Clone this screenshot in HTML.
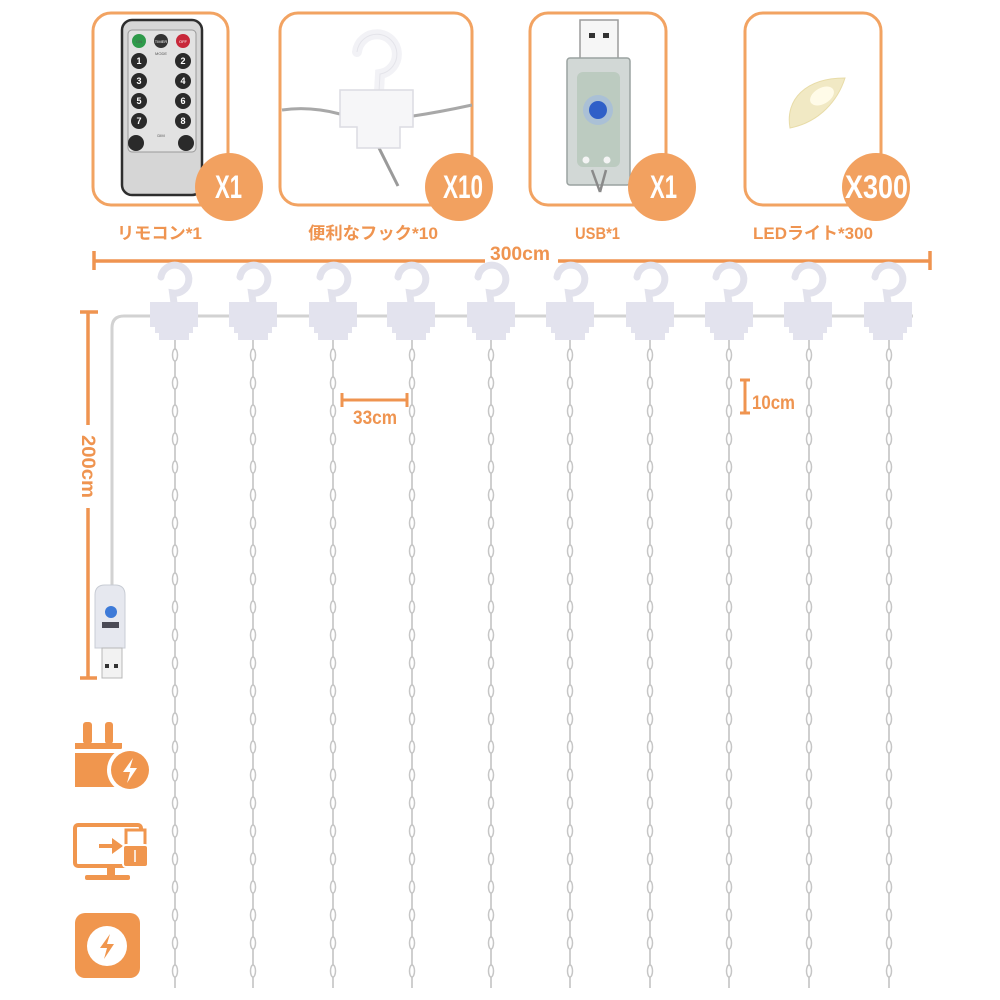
<!DOCTYPE html>
<html><head><meta charset="utf-8"><style>
html,body{margin:0;padding:0;background:#fff;}
svg{display:block;}
.t{font-family:"Liberation Sans Narrow","Liberation Sans","Noto Sans CJK JP",sans-serif;fill:#ef9450;font-weight:bold;}
.b{font-family:"Liberation Sans Narrow","Liberation Sans",sans-serif;fill:#fff;font-weight:bold;}
</style></head><body>
<svg width="1000" height="1000" viewBox="0 0 1000 1000" xmlns="http://www.w3.org/2000/svg">
<defs>
<g id="strand">
<line x1="0" y1="340" x2="0" y2="988" stroke="#cfcfcf" stroke-width="2"/>
<g fill="#fff" stroke="#c6c6c6" stroke-width="1.5">
<ellipse cx="0" cy="355" rx="2.5" ry="6"/><ellipse cx="0" cy="383" rx="2.5" ry="6"/><ellipse cx="0" cy="411" rx="2.5" ry="6"/><ellipse cx="0" cy="439" rx="2.5" ry="6"/><ellipse cx="0" cy="467" rx="2.5" ry="6"/><ellipse cx="0" cy="495" rx="2.5" ry="6"/><ellipse cx="0" cy="523" rx="2.5" ry="6"/><ellipse cx="0" cy="551" rx="2.5" ry="6"/><ellipse cx="0" cy="579" rx="2.5" ry="6"/><ellipse cx="0" cy="607" rx="2.5" ry="6"/><ellipse cx="0" cy="635" rx="2.5" ry="6"/><ellipse cx="0" cy="663" rx="2.5" ry="6"/><ellipse cx="0" cy="691" rx="2.5" ry="6"/><ellipse cx="0" cy="719" rx="2.5" ry="6"/><ellipse cx="0" cy="747" rx="2.5" ry="6"/><ellipse cx="0" cy="775" rx="2.5" ry="6"/><ellipse cx="0" cy="803" rx="2.5" ry="6"/><ellipse cx="0" cy="831" rx="2.5" ry="6"/><ellipse cx="0" cy="859" rx="2.5" ry="6"/><ellipse cx="0" cy="887" rx="2.5" ry="6"/><ellipse cx="0" cy="915" rx="2.5" ry="6"/><ellipse cx="0" cy="943" rx="2.5" ry="6"/><ellipse cx="0" cy="971" rx="2.5" ry="6"/>
</g>
</g>
<g id="hook">
<path d="M-13,277 A14 14 0 1 1 -1.4,293 L0,303" fill="none" stroke="#e2e2ec" stroke-width="7" stroke-linecap="round"/>
<polygon points="-24,302 24,302 24,327 19,327 19,333 15,333 15,340 -15,340 -15,333 -19,333 -19,327 -24,327" fill="#e3e3ee"/>
</g>
</defs>

<!-- top boxes -->
<g fill="none" stroke="#f2a362" stroke-width="3">
<rect x="93" y="13" width="135" height="192" rx="18"/>
<rect x="280" y="13" width="192" height="192" rx="18"/>
<rect x="530" y="13" width="136" height="192" rx="18"/>
<rect x="745" y="13" width="136" height="192" rx="18"/>
</g>

<!-- remote -->
<rect x="122" y="20" width="80" height="175" rx="10" fill="#d6d6d6" stroke="#2e2e2e" stroke-width="2.5"/>
<rect x="128" y="30" width="68" height="122" rx="4" fill="#e2e2e2" stroke="#9a9a9a" stroke-width="1"/>
<circle cx="139" cy="41" r="7" fill="#2e9a4a"/><circle cx="161" cy="41" r="7" fill="#333"/><circle cx="183" cy="41" r="7" fill="#c8283a"/>
<g fill="#2a2a2a"><circle cx="139" cy="61" r="8"/><circle cx="183" cy="61" r="8"/><circle cx="139" cy="81" r="8"/><circle cx="183" cy="81" r="8"/><circle cx="139" cy="101" r="8"/><circle cx="183" cy="101" r="8"/><circle cx="139" cy="121" r="8"/><circle cx="183" cy="121" r="8"/><circle cx="136" cy="143" r="8"/><circle cx="186" cy="143" r="8"/></g>
<g font-family="Liberation Sans,sans-serif" font-size="9" fill="#fff" text-anchor="middle" font-weight="bold"><text x="139" y="64">1</text><text x="183" y="64">2</text><text x="139" y="84">3</text><text x="183" y="84">4</text><text x="139" y="104">5</text><text x="183" y="104">6</text><text x="139" y="124">7</text><text x="183" y="124">8</text></g>
<g font-family="Liberation Sans,sans-serif" font-size="4" fill="#555" text-anchor="middle"><text x="161" y="55">MODE</text><text x="161" y="137">DIM</text><text x="139" y="43">ON</text><text x="161" y="43" fill="#fff">TIMER</text><text x="183" y="43" fill="#fff">OFF</text></g>

<!-- hook image -->
<path d="M282,110 Q310,106 340,114" fill="none" stroke="#a8a8a8" stroke-width="3"/>
<path d="M413,116 Q440,112 472,105" fill="none" stroke="#a8a8a8" stroke-width="3"/>
<path d="M378,146 L398,186" stroke="#9a9a9a" stroke-width="3"/>
<path d="M357,52 A20 20 0 1 1 380,74 L379,92" fill="none" stroke="#f2f2f6" stroke-width="10" stroke-linecap="round"/>
<path d="M357,52 A20 20 0 1 1 380,74 L379,92" fill="none" stroke="#e4e4ea" stroke-width="1"/>
<polygon points="340,90 413,90 413,127 400,127 400,148 357,148 357,127 340,127" fill="#f6f6f8" stroke="#dcdce2" stroke-width="1.5"/>

<!-- usb image -->
<rect x="580" y="20" width="38" height="43" fill="#f6f6f6" stroke="#9c9c9c" stroke-width="1.5"/>
<rect x="589" y="33" width="6" height="5" fill="#333"/><rect x="603" y="33" width="6" height="5" fill="#333"/>
<rect x="567" y="58" width="63" height="127" rx="3" fill="#d2d8d6" stroke="#9aa2a0" stroke-width="1.5"/>
<rect x="577" y="72" width="43" height="95" rx="6" fill="#bccbc0"/>
<circle cx="598" cy="110" r="15" fill="#aac0d6"/><circle cx="598" cy="110" r="9" fill="#2f5fc8"/>
<circle cx="586" cy="160" r="3.5" fill="#f4f4f4"/><circle cx="607" cy="160" r="3.5" fill="#f4f4f4"/>
<path d="M592,170 L600,192 M606,170 L600,192" stroke="#8a8a8a" stroke-width="2.5" fill="none"/>

<!-- LED -->
<path d="M790,128 C785,100 805,78 845,78 C838,100 820,122 790,128 Z" fill="#f1e9c4" stroke="#e8dca8" stroke-width="1"/>
<ellipse cx="822" cy="96" rx="13" ry="8" fill="#fffbe8" transform="rotate(-30 822 96)"/>

<!-- badges -->
<g fill="#f2a160">
<circle cx="229" cy="187" r="34"/><circle cx="459" cy="187" r="34"/><circle cx="662" cy="187" r="34"/><circle cx="876" cy="187" r="34"/>
</g>
<text class="b" x="215" y="198" font-size="32" textLength="27" lengthAdjust="spacingAndGlyphs">X1</text>
<text class="b" x="443" y="198" font-size="32" textLength="40" lengthAdjust="spacingAndGlyphs">X10</text>
<text class="b" x="650" y="198" font-size="32" textLength="27" lengthAdjust="spacingAndGlyphs">X1</text>
<text class="b" x="845" y="198" font-size="32" textLength="63" lengthAdjust="spacingAndGlyphs">X300</text>

<!-- labels -->
<text class="t" x="117" y="239" font-size="17" textLength="85" lengthAdjust="spacingAndGlyphs">リモコン*1</text>
<text class="t" x="308" y="239" font-size="17" textLength="130" lengthAdjust="spacingAndGlyphs">便利なフック*10</text>
<text class="t" x="575" y="239" font-size="17" textLength="45" lengthAdjust="spacingAndGlyphs">USB*1</text>
<text class="t" x="753" y="239" font-size="17" textLength="120" lengthAdjust="spacingAndGlyphs">LEDライト*300</text>

<!-- 300cm dimension -->
<g stroke="#ef9450" stroke-width="3.5">
<line x1="94" y1="261" x2="485" y2="261"/><line x1="558" y1="261" x2="930" y2="261"/>
<line x1="94" y1="251" x2="94" y2="270"/><line x1="930" y1="251" x2="930" y2="270"/>
</g>
<text class="t" x="490" y="260" font-size="19" textLength="60" lengthAdjust="spacingAndGlyphs">300cm</text>

<!-- wire -->
<path d="M112,585 L112,328 Q112,316 124,316 L913,316" fill="none" stroke="#d2d2d2" stroke-width="3"/>

<!-- strands -->
<use href="#strand" x="175"/><use href="#strand" x="253"/><use href="#strand" x="333"/><use href="#strand" x="412"/><use href="#strand" x="491"/><use href="#strand" x="570"/><use href="#strand" x="650"/><use href="#strand" x="729"/><use href="#strand" x="809"/><use href="#strand" x="889"/>
<!-- hooks -->
<use href="#hook" x="174"/><use href="#hook" x="253"/><use href="#hook" x="333"/><use href="#hook" x="411"/><use href="#hook" x="491"/><use href="#hook" x="570"/><use href="#hook" x="650"/><use href="#hook" x="729"/><use href="#hook" x="808"/><use href="#hook" x="888"/>

<!-- 200cm dimension -->
<g stroke="#ef9450" stroke-width="3.5">
<line x1="88" y1="312" x2="88" y2="425"/><line x1="88" y1="508" x2="88" y2="678"/>
<line x1="80" y1="312" x2="98" y2="312"/><line x1="80" y1="678" x2="97" y2="678"/>
</g>
<text class="t" x="0" y="0" font-size="19" textLength="63" lengthAdjust="spacingAndGlyphs" transform="translate(82,435) rotate(90)">200cm</text>

<!-- 33cm -->
<g stroke="#ef9450" stroke-width="3">
<line x1="342" y1="400" x2="407" y2="400"/><line x1="342" y1="393" x2="342" y2="407"/><line x1="407" y1="393" x2="407" y2="407"/>
</g>
<text class="t" x="353" y="424" font-size="19" textLength="44" lengthAdjust="spacingAndGlyphs">33cm</text>

<!-- 10cm -->
<g stroke="#ef9450" stroke-width="3">
<line x1="745" y1="380" x2="745" y2="413"/><line x1="740" y1="380" x2="750" y2="380"/><line x1="740" y1="413" x2="750" y2="413"/>
</g>
<text class="t" x="752" y="409" font-size="19" textLength="43" lengthAdjust="spacingAndGlyphs">10cm</text>

<!-- left usb module -->
<path d="M95,648 L95,595 Q95,585 105,585 L115,585 Q125,585 125,595 L125,648 Z" fill="#e6e8ef" stroke="#c8ccd4" stroke-width="1"/>
<circle cx="111" cy="612" r="6" fill="#3d7ad8"/>
<rect x="102" y="622" width="17" height="6" fill="#4a4a55"/>
<rect x="102" y="648" width="20" height="30" fill="#f2f2f2" stroke="#b8b8b8" stroke-width="1"/>
<rect x="105" y="664" width="4" height="4" fill="#333"/><rect x="114" y="664" width="4" height="4" fill="#333"/>

<!-- plug icon -->
<g fill="#f0964e">
<rect x="83" y="722" width="9" height="22" rx="3"/><rect x="105" y="722" width="8" height="22" rx="3"/>
<rect x="75" y="743" width="47" height="6"/>
<rect x="75" y="753" width="44" height="34"/>
</g>
<circle cx="130" cy="770" r="23" fill="#fff"/>
<circle cx="130" cy="770" r="19" fill="#f0964e"/>
<polygon points="133,758 123,772 130,772 127,783 137,768 130,768" fill="#fff"/>

<!-- monitor icon -->
<g fill="none" stroke="#f0964e" stroke-width="4">
<rect x="75" y="825" width="66" height="41" rx="3"/>
</g>
<g fill="#f0964e">
<rect x="107" y="866" width="8" height="9"/>
<rect x="85" y="875" width="45" height="5" rx="2"/>
<rect x="99" y="844" width="14" height="4"/>
<polygon points="112,838 123,846 112,854"/>
</g>
<rect x="126" y="830" width="19" height="16" fill="#fff" stroke="#f0964e" stroke-width="3"/>
<rect x="123" y="845" width="25" height="22" rx="3" fill="#f0964e" stroke="#fff" stroke-width="2"/>
<line x1="135" y1="850" x2="135" y2="862" stroke="#fff" stroke-width="1.5"/>

<!-- square icon -->
<rect x="75" y="913" width="65" height="65" rx="10" fill="#f0964e"/>
<circle cx="107" cy="946" r="20" fill="#fff"/>
<polygon points="110,934 100,948 107,948 104,959 114,944 107,944" fill="#f0964e"/>
</svg>
</body></html>
